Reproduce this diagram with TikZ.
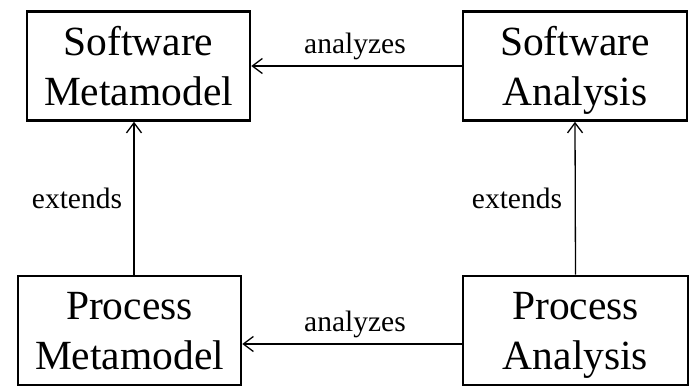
\documentclass[tikz,border=0pt]{standalone}
\usepackage{fontspec}
\setmainfont{Liberation Serif}
\usetikzlibrary{arrows.meta}
\begin{document}
\begin{tikzpicture}[x=1pt,y=-1pt,
  box/.style={draw,line width=2.6pt,rectangle,inner sep=0pt,minimum height=109pt,align=center,
    text depth=0pt,font=\fontsize{41.5}{50}\selectfont},
  lowbox/.style={box,text depth=-7pt},
  arr/.style={line width=1.3pt,-{Straight Barb[length=10pt,width=15pt,line width=1.3pt]}},
  lbl/.style={font=\fontsize{29.5}{34}\selectfont,anchor=base,inner sep=0pt}]
\useasboundingbox (0,0) rectangle (696,388);
\node[box,minimum width=223pt] (tl) at (138.5,66) {Software\\Metamodel};
\node[box,minimum width=224pt] (tr) at (575,66) {Software\\Analysis};
\node[lowbox,minimum width=223pt] (bl) at (129.5,330.5) {Process\\Metamodel};
\node[lowbox,minimum width=225pt] (br) at (575.5,330.5) {Process\\Analysis};
\draw[arr] (tr.west) -- (tl.east);
\draw[arr] ([yshift=-13.5pt]br.west) -- ([yshift=-13.5pt]bl.east);
\draw[arr] ([xshift=4.5pt]bl.north) -- ([xshift=-4.5pt]tl.south);
\draw[arr] (br.north) -- (tr.south);
\node[lbl] (l1) at (355,53) {analyzes};
\node[lbl] (l2) at (355,331) {analyzes};
\node[lbl] (l3) at (77,208) {extends};
\node[lbl] (l4) at (517,208) {extends};
\end{tikzpicture}
\end{document}
